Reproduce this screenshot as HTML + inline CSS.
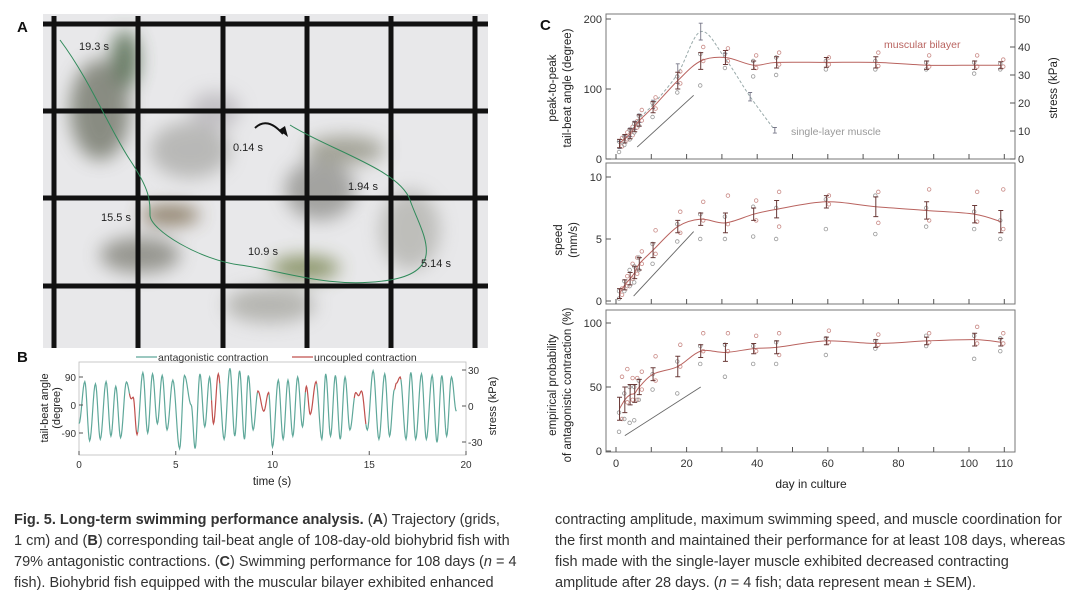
<!DOCTYPE html>
<html><head><meta charset="utf-8"><style>
body{margin:0;background:#fff;}
#root{position:relative;width:1080px;height:599px;overflow:hidden;font-family:"Liberation Sans",sans-serif;}
svg{position:absolute;left:0;top:0;}
.cap{position:absolute;font-family:"Liberation Sans Narrow","Liberation Sans",sans-serif;font-size:14.5px;line-height:21px;color:#333;white-space:nowrap;}
</style></head><body>
<div id="root">
<svg id="svg" width="1080" height="599">
<defs>
<filter id="blur" x="-50%" y="-50%" width="200%" height="200%"><feGaussianBlur stdDeviation="9"/></filter>
</defs>
<g id="panelA">
<rect x="43" y="14" width="445" height="334" fill="#e8e8ea"/>
<g filter="url(#blur)" opacity="0.75">
<ellipse cx="100" cy="110" rx="30" ry="50" fill="#6b6e60"/>
<ellipse cx="125" cy="60" rx="14" ry="30" fill="#3f5a3a"/>
<ellipse cx="190" cy="150" rx="40" ry="28" fill="#a9a9a6"/>
<ellipse cx="320" cy="190" rx="35" ry="30" fill="#8c8c88"/>
<ellipse cx="345" cy="150" rx="40" ry="14" fill="#8d8d7d"/>
<ellipse cx="410" cy="230" rx="30" ry="40" fill="#b0b0ab"/>
<ellipse cx="140" cy="255" rx="40" ry="18" fill="#7c7c72"/>
<ellipse cx="170" cy="215" rx="30" ry="10" fill="#6d5a3a"/>
<ellipse cx="305" cy="268" rx="35" ry="12" fill="#6d7a40"/>
<ellipse cx="270" cy="305" rx="45" ry="18" fill="#a5a59f"/>
<ellipse cx="215" cy="110" rx="25" ry="18" fill="#b6b3b8"/>
</g>
<g id="grid" stroke="#111" stroke-width="5"></g>
<path d="M60,40 C90,80 110,130 130,160 S150,200 150,215 S200,260 240,265 S330,290 390,280 S420,230 410,200 S330,150 290,125" fill="none" stroke="#2f8a5a" stroke-width="1"/>
<path d="M255,128 q12,-12 28,6" fill="none" stroke="#111" stroke-width="2"/>
<polygon points="279,130 288,137 285,126" fill="#111"/>
<g font-size="11" fill="#222">
<text x="79" y="50">19.3 s</text><text x="233" y="151">0.14 s</text><text x="348" y="190">1.94 s</text>
<text x="101" y="221">15.5 s</text><text x="248" y="255">10.9 s</text><text x="421" y="267">5.14 s</text>
</g>
<text x="17" y="32" font-size="15" font-weight="bold" fill="#111">A</text>
</g>
<g id="panelB"></g>
<g id="panelC"></g>
</svg>
<div class="cap" style="left:14px;top:510px"><b>Fig. 5. Long-term swimming performance analysis.</b> (<b>A</b>) Trajectory (grids,<br>1 cm) and (<b>B</b>) corresponding tail-beat angle of 108-day-old biohybrid fish with<br>79% antagonistic contractions. (<b>C</b>) Swimming performance for 108 days (<i>n</i> = 4<br>fish). Biohybrid fish equipped with the muscular bilayer exhibited enhanced</div>
<div class="cap" style="left:555px;top:510px">contracting amplitude, maximum swimming speed, and muscle coordination for<br>the first month and maintained their performance for at least 108 days, whereas<br>fish made with the single-layer muscle exhibited decreased contracting<br>amplitude after 28 days. (<i>n</i> = 4 fish; data represent mean ± SEM).</div>
</div>
<script>
// Panel B data
const bTimes=[0,0.3,0.55,0.85,1.1,1.4,1.65,1.9,2.15,2.45,2.7,2.8,3.0,3.3,3.55,3.8,4.05,4.3,4.55,4.85,5.2,5.45,5.8,6.0,6.25,6.5,6.75,6.95,7.2,7.5,7.8,8.05,8.3,8.55,8.75,9.0,9.25,9.55,9.8,10.0,10.3,10.55,10.8,11.05,11.3,11.55,11.75,11.95,12.25,12.55,12.75,13.0,13.25,13.5,13.75,14.0,14.3,14.45,14.6,14.9,15.2,15.5,15.8,16.05,16.3,16.4,16.6,16.9,17.15,17.4,17.7,17.95,18.25,18.5,18.75,19.0,19.25,19.5];
const bAngles=[-60,75,-115,68,-110,75,-100,60,-105,74,20,25,-95,104,-90,100,-60,95,-80,80,-140,95,0,-140,100,-70,90,-60,100,-110,118,-100,110,-110,95,-80,45,-20,40,-135,80,-110,80,-100,90,-70,60,-30,75,-110,100,-100,95,-110,90,-80,40,30,45,-80,110,-110,100,-100,50,70,90,-110,105,-110,100,-110,95,-120,95,-100,90,-20];
const bUncoupled=[[2.6,3.0],[6.85,7.25],[9.2,9.8],[11.7,12.25],[14.2,14.8],[16.3,16.6]];
const bXTicks=[0,5,10,15,20];
const bYTicks=[90,0,-90];
const bStressTicks=[30,0,-30];
// Panel C data
const cDays=[1,2.5,4,5.3,6.6,10.5,17.5,24,31,39,45.5,59.6,73.6,88,101.6,109];
const cAngle=[22,29,36,46,55,74,112,140,145,134,138,138,138,134,134,134];
const cAngleErr=[6,6,7,7,8,8,12,12,10,6,8,7,8,6,6,5];
const cSingleDays=[1,2.5,4,5.3,6.6,10.5,17.5,24,31,38,45];
const cSingle=[20,28,38,48,58,78,122,182,143,89,41];
const cSingleErr=[5,5,6,6,6,6,14,12,8,6,4];
const cSpeed=[0.6,1.3,1.8,2.3,3.0,4.1,6.0,6.6,6.3,7.0,7.4,8.0,7.6,7.3,7.0,6.4];
const cSpeedErr=[0.4,0.4,0.5,0.5,0.5,0.6,0.5,0.5,0.8,0.5,0.7,0.5,0.8,0.7,0.7,0.9];
const cProb=[33,40,44,45,50,60,66,78,77,80,81,86,84,86,87,85];
const cProbErr=[9,10,8,7,6,5,8,5,7,4,5,3,3,3,5,3];
const cAngleScatter=[[10,18,25,30],[20,28,32,38],[28,34,42,46],[38,45,50,54],[48,55,62,70],[60,72,80,88],[95,108,118,125],[105,140,150,160],[130,140,150,158],[118,130,140,148],[120,135,145,152],[128,135,140,145],[128,133,140,152],[128,132,138,148],[122,132,138,148],[128,132,136,142]];
const cSpeedScatter=[[0.2,0.5,0.8,1.0],[0.8,1.2,1.6,2.0],[1.2,1.8,2.5,3.0],[1.5,2.2,2.8,3.5],[2.5,3.0,3.5,4.0],[3.0,3.8,4.6,5.7],[4.8,5.5,6.2,7.2],[5.0,6.5,7.0,8.0],[5.0,6.2,6.8,8.5],[5.2,6.5,7.6,8.1],[5.0,6.0,7.5,8.8],[5.8,7.8,8.2,8.5],[5.4,6.3,8.5,8.8],[6.0,6.5,7.5,9.0],[5.8,6.4,7.2,8.8],[5.0,5.8,6.5,9.0]];
const cProbScatter=[[15,25,30,58],[25,38,45,64],[22,40,50,57],[24,40,50,57],[40,48,55,62],[48,55,60,74],[45,66,70,83],[68,78,82,92],[58,78,83,92],[68,78,82,90],[68,75,85,92],[75,85,88,94],[80,83,86,91],[82,85,90,92],[72,84,90,97],[78,84,88,92]];
const cXTicks=[0,20,40,60,80,100,110];
const cMinorTicks=[10,30,50,70,90];
const NS='http://www.w3.org/2000/svg';
function mk(tag,attrs,parent,txt){const e=document.createElementNS(NS,tag);for(const k in attrs)e.setAttribute(k,attrs[k]);if(txt!==undefined)e.textContent=txt;parent.appendChild(e);return e;}
// Grid for A
const grid=document.getElementById('grid');
[54,138,223,307,391,475].forEach(x=>{const l=mk('line',{x1:x,y1:16,x2:x,y2:348},grid);

});
[24,111,198,286].forEach(y=>{const l=mk('line',{x1:43,y1:y,x2:488,y2:y},grid);

});
// Panel B
const B=document.getElementById('panelB');
const bx=t=>79+(t/20)*387, by=a=>405-a*0.311, bs=s=>406-s*(36/30);
mk('rect',{x:79,y:362,width:387,height:93,fill:'none',stroke:'#bbb','stroke-width':0.8},B);
function isUnc(t){return bUncoupled.some(r=>t>=r[0]&&t<=r[1]);}
let segs=[],cur=null;
for(let i=0;i<bTimes.length-1;i++){const t0=bTimes[i],t1=bTimes[i+1],a0=bAngles[i],a1=bAngles[i+1];
 for(let k=0;k<=8;k++){const f=k/8,t=t0+(t1-t0)*f,a=a0+(a1-a0)*(1-Math.cos(Math.PI*f))/2;const u=isUnc(t);
  if(!cur||cur.u!==u){if(cur)cur.p.push([bx(t),by(a)]);cur={u:u,p:[]};segs.push(cur);}cur.p.push([bx(t),by(a)]);}}
segs.forEach(s=>{const p=mk('polyline',{points:s.p.map(q=>q.join(',')).join(' '),fill:'none',stroke:s.u?'#c0504d':'#5fa89a','stroke-width':1.2},B);

});
bXTicks.forEach(t=>{mk('line',{x1:bx(t),y1:455,x2:bx(t),y2:451,stroke:'#555'},B);const e=mk('text',{x:bx(t),y:468,'font-size':10,'text-anchor':'middle',fill:'#333'},B,t);

});
bYTicks.forEach(v=>{mk('line',{x1:79,y1:by(v),x2:83,y2:by(v),stroke:'#555'},B);const e=mk('text',{x:76,y:by(v)+4,'font-size':10,'text-anchor':'end',fill:'#333'},B,v);

});
bStressTicks.forEach(v=>{mk('line',{x1:466,y1:bs(v),x2:462,y2:bs(v),stroke:'#555'},B);const e=mk('text',{x:468,y:bs(v)+4,'font-size':10,fill:'#333'},B,v);

});
mk('text',{x:272,y:485,'font-size':11.5,'text-anchor':'middle',fill:'#222',},B,'time (s)');
mk('text',{transform:'translate(48,408) rotate(-90)','font-size':11,'text-anchor':'middle',fill:'#222',},B,'tail-beat angle');
mk('text',{transform:'translate(60,408) rotate(-90)','font-size':11,'text-anchor':'middle',fill:'#222',},B,'(degree)');
mk('text',{transform:'translate(496,406) rotate(-90)','font-size':11,'text-anchor':'middle',fill:'#222',},B,'stress (kPa)');
mk('text',{x:17,y:362,'font-size':15,'font-weight':'bold',fill:'#111',},B,'B');
mk('line',{x1:136,y1:357,x2:157,y2:357,stroke:'#5fa89a','stroke-width':1.2,},B);
mk('text',{x:158,y:361,'font-size':10.5,fill:'#333',},B,'antagonistic contraction');
mk('line',{x1:292,y1:357,x2:313,y2:357,stroke:'#c0504d','stroke-width':1.2,},B);
mk('text',{x:314,y:361,'font-size':10.5,fill:'#333',},B,'uncoupled contraction');
// Panel C
const C=document.getElementById('panelC');
const cx=d=>616+d*3.53;
const panels=[{top:14,bot:159,y0:159,yPerUnit:(159-19)/200,ticks:[0,100,200],mean:cAngle,err:cAngleErr,sc:cAngleScatter,name:'angle'},
{top:163,bot:304,y0:301,yPerUnit:12.4,ticks:[0,5,10],mean:cSpeed,err:cSpeedErr,sc:cSpeedScatter,name:'speed'},
{top:310,bot:452,y0:451,yPerUnit:1.28,ticks:[0,50,100],mean:cProb,err:cProbErr,sc:cProbScatter,name:'probability'}];
function smoothPath(pts){let d='M'+pts[0][0]+','+pts[0][1];for(let i=0;i<pts.length-1;i++){const p0=pts[Math.max(0,i-1)],p1=pts[i],p2=pts[i+1],p3=pts[Math.min(pts.length-1,i+2)];
 d+=' C'+(p1[0]+(p2[0]-p0[0])/6)+','+(p1[1]+(p2[1]-p0[1])/6)+' '+(p2[0]-(p3[0]-p1[0])/6)+','+(p2[1]-(p3[1]-p1[1])/6)+' '+p2[0]+','+p2[1];}return d;}
panels.forEach((P,pi)=>{const y=v=>P.y0-v*P.yPerUnit;
 const r=mk('rect',{x:606,y:P.top,width:409,height:P.bot-P.top,fill:'none',stroke:'#777','stroke-width':1},C);
 
 
 P.ticks.forEach(v=>{mk('line',{x1:606,y1:y(v),x2:611,y2:y(v),stroke:'#555'},C);const t=mk('text',{x:602,y:y(v)+4,'font-size':11,'text-anchor':'end',fill:'#333'},C,v);
 
 });
 cXTicks.concat(cMinorTicks).forEach(d=>mk('line',{x1:cx(d),y1:P.bot,x2:cx(d),y2:P.bot-5,stroke:'#555'},C));
 // scatter
 P.sc.forEach((arr,i)=>arr.forEach((v,j)=>{const c=mk('circle',{cx:cx(cDays[i])+(j%2?2.5:-0.5),cy:y(v),r:1.8,fill:'none',stroke:j%2?'#c98a86':'#999','stroke-width':0.8},C);
 
 }));
 if(pi===0){const sp=cSingleDays.map((d,i)=>[cx(d),y(cSingle[i])]);
  const s=mk('path',{d:smoothPath(sp),fill:'none',stroke:'#9aa','stroke-width':1,'stroke-dasharray':'3,2'},C);
  
  
  cSingleDays.forEach((d,i)=>{const e=mk('path',{d:'M'+(cx(d)-2)+','+y(cSingle[i]-cSingleErr[i])+'h4M'+cx(d)+','+y(cSingle[i]-cSingleErr[i])+'V'+y(cSingle[i]+cSingleErr[i])+'M'+(cx(d)-2)+','+y(cSingle[i]+cSingleErr[i])+'h4',stroke:'#778',fill:'none','stroke-width':0.9},C);
  
  });}
 const pts=cDays.map((d,i)=>[cx(d),y(P.mean[i])]);
 const l=mk('path',{d:smoothPath(pts),fill:'none',stroke:'#b9635f','stroke-width':1},C);
 
 
 cDays.forEach((d,i)=>{const lo=y(P.mean[i]-P.err[i]),hi=y(P.mean[i]+P.err[i]);
 const e=mk('path',{d:'M'+(cx(d)-2.5)+','+lo+'h5M'+cx(d)+','+lo+'V'+hi+'M'+(cx(d)-2.5)+','+hi+'h5',stroke:'#6a3a38',fill:'none','stroke-width':1},C);
 
 });
});
// slope guide lines
[[6,17,22,91,0],[5,0.4,22,5.6,1],[2.5,12,24,50,2]].forEach(s=>{const P=panels[s[4]];const l=mk('line',{x1:cx(s[0]),y1:P.y0-s[1]*P.yPerUnit,x2:cx(s[2]),y2:P.y0-s[3]*P.yPerUnit,stroke:'#666','stroke-width':0.9},C);

});
cXTicks.forEach(d=>{const t=mk('text',{x:cx(d),y:467,'font-size':11,'text-anchor':'middle',fill:'#333'},C,d);

});
// right stress axis
[0,10,20,30,40,50].forEach(v=>{const yy=159-v*(140/50);mk('line',{x1:1015,y1:yy,x2:1010,y2:yy,stroke:'#555'},C);const t=mk('text',{x:1018,y:yy+4,'font-size':11,fill:'#333'},C,v);

});
mk('text',{x:811,y:488,'font-size':12,'text-anchor':'middle',fill:'#222',},C,'day in culture');
mk('text',{transform:'translate(556,88) rotate(-90)','font-size':11.5,'text-anchor':'middle',fill:'#222',},C,'peak-to-peak');
mk('text',{transform:'translate(571,88) rotate(-90)','font-size':11.5,'text-anchor':'middle',fill:'#222',},C,'tail-beat angle (degree)');
mk('text',{transform:'translate(1057,88) rotate(-90)','font-size':11.5,'text-anchor':'middle',fill:'#222',},C,'stress (kPa)');
mk('text',{transform:'translate(562,240) rotate(-90)','font-size':11.5,'text-anchor':'middle',fill:'#222',},C,'speed');
mk('text',{transform:'translate(577,240) rotate(-90)','font-size':11.5,'text-anchor':'middle',fill:'#222',},C,'(mm/s)');
mk('text',{transform:'translate(556,385) rotate(-90)','font-size':11.5,'text-anchor':'middle',fill:'#222',},C,'empirical probability');
mk('text',{transform:'translate(571,385) rotate(-90)','font-size':11.5,'text-anchor':'middle',fill:'#222',},C,'of antagonistic contraction (%)');
mk('text',{x:884,y:48,'font-size':10.5,fill:'#b9635f',},C,'muscular bilayer');
mk('text',{x:791,y:135,'font-size':10.5,fill:'#999',},C,'single-layer muscle');
mk('text',{x:540,y:30,'font-size':15,'font-weight':'bold',fill:'#111',},C,'C');
</script>
</body></html>
